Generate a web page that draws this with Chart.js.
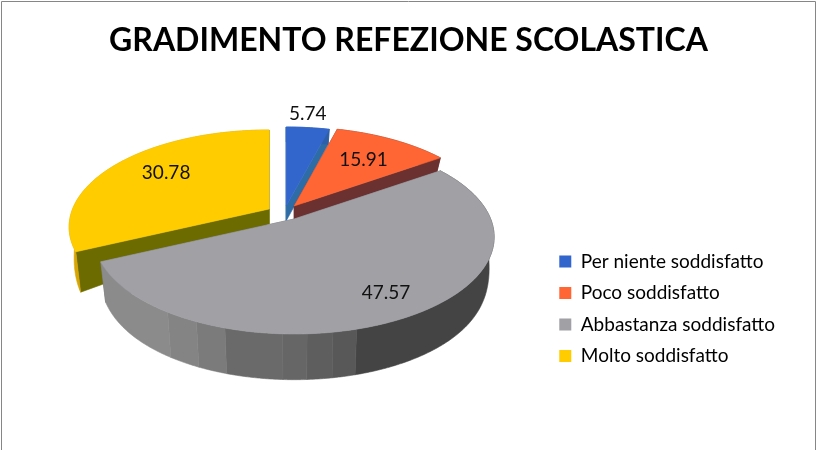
<!DOCTYPE html>
<html>
<head>
<meta charset="utf-8">
<title>Gradimento refezione scolastica</title>
<style>
  html, body { margin: 0; padding: 0; background: #fff; }
  canvas { display: block; }
</style>
<script src="https://cdn.jsdelivr.net/npm/chart.js@4/dist/chart.umd.min.js"></script>
</head>
<body>
<canvas id="chart" width="822" height="462"></canvas>
<script>
const categories = ["Per niente soddisfatto", "Poco soddisfatto", "Abbastanza soddisfatto", "Molto soddisfatto"];
const values = [5.74, 15.91, 47.57, 30.78];
const chartTitle = "GRADIMENTO REFEZIONE SCOLASTICA";

const faceColors = ["#3366cc", "#ff6633", "#a0a0a5", "#ffcc00"];
const edgeWallColors = ["#2d6ca5", "#6b3030", "#6b6b70", "#6b6b00"];
const rimWallColors = ["#2d5fa8", "#6b3030", "#444444", "#d9a500"];

// exploded slices: shift of each slice's tip from the pie centre
const sliceShiftX = [-3.25, 4.75, 4.75, -20.25];
const sliceShiftY = [-18.2, -18.2, -5.2, -15.2];
const drawOrder = [0, 1, 3, 2];

// where each value label sits between tip and rim
const labelReachX = [1.0, 0.7, 0.95, 0.65];
const labelReachY = [1.18, 0.69, 0.72, 0.88];

// the perspective squeezes the far right of the pie: true angle -> seen angle
const trueAngles = [0, 78, 249, 360];
const seenAngles = [0, 47, 255, 360];
const tilt = 0.485;
const tipAboveCentre = 18;

// shaded strips on the front of the grey slice, by horizontal position
const bandEdges = [-0.63, -0.485, -0.34, -0.055, 0.07, 0.2, 0.32];
const bandColors = ["#8b8b8b", "#848484", "#7b7b7b", "#6a6a6a", "#666666", "#5e5e5e", "#585858", "#444444"];

function seenAngle(deg) {
  for (let i = 1; i < trueAngles.length; i += 1) {
    if (deg <= trueAngles[i]) {
      const f = (deg - trueAngles[i - 1]) / (trueAngles[i] - trueAngles[i - 1]);
      return seenAngles[i - 1] + f * (seenAngles[i] - seenAngles[i - 1]);
    }
  }
  return deg;
}

function wallDepth(rel) {
  return rel <= 0 ? 15 : 46 - 31 * Math.exp(-rel / 25);
}

const pie3d = {
  id: "pie3d",
  beforeDraw(chart) {
    // frame of the original picture, open at the bottom
    const { ctx } = chart;
    ctx.save();
    ctx.strokeStyle = "#868686";
    ctx.lineWidth = 1;
    ctx.beginPath();
    ctx.moveTo(1.5, 450);
    ctx.lineTo(1.5, 1.5);
    ctx.lineTo(815.5, 1.5);
    ctx.lineTo(815.5, 450);
    ctx.stroke();
    ctx.restore();
  },
  beforeDatasetDraw(chart, args) {
    const { ctx } = chart;
    const arcs = args.meta.data;
    const fontSize = 19;

    function rimPoint(arc, i, t) {
      const r = arc.outerRadius;
      const rad = (t * Math.PI) / 180;
      const tipY = arc.y + sliceShiftY[i];
      return {
        x: arc.x + sliceShiftX[i] + r * Math.sin(rad),
        y: tipY + tipAboveCentre - r * tilt * Math.cos(rad),
      };
    }

    function lowered(arc, i, p) {
      const tipX = arc.x + sliceShiftX[i];
      const tipY = arc.y + sliceShiftY[i];
      return { x: tipX + (p.x - tipX) * 0.975, y: p.y + wallDepth(p.y - tipY) };
    }

    function fillPoly(points, color) {
      ctx.fillStyle = color;
      ctx.strokeStyle = color;
      ctx.lineWidth = 0.6;
      ctx.beginPath();
      points.forEach((p, k) => (k ? ctx.lineTo(p.x, p.y) : ctx.moveTo(p.x, p.y)));
      ctx.closePath();
      ctx.fill();
      ctx.stroke();
    }

    function rimColor(i, t) {
      if (i !== 2) return rimWallColors[i];
      const s = Math.sin((t * Math.PI) / 180);
      let band = 0;
      while (band < bandEdges.length && s > bandEdges[band]) band += 1;
      return bandColors[band];
    }

    ctx.save();
    drawOrder.forEach((i) => {
      const arc = arcs[i];
      const from = seenAngle(((arc.startAngle + Math.PI / 2) * 180) / Math.PI);
      const to = seenAngle(((arc.endAngle + Math.PI / 2) * 180) / Math.PI);
      const tip = { x: arc.x + sliceShiftX[i], y: arc.y + sliceShiftY[i] };
      const tipLow = { x: tip.x, y: tip.y + wallDepth(0) };

      // straight walls
      [from, to].forEach((t) => {
        const p = rimPoint(arc, i, t);
        fillPoly([tip, p, lowered(arc, i, p), tipLow], edgeWallColors[i]);
      });

      // curved wall, one polygon per colour band
      let top = [];
      let color = rimColor(i, from + 0.25);
      const steps = Math.ceil((to - from) * 2);
      for (let s = 0; s <= steps; s += 1) {
        const t = from + ((to - from) * s) / steps;
        const now = rimColor(i, t);
        const p = rimPoint(arc, i, t);
        top.push(p);
        if (now !== color || s === steps) {
          const bottom = top.map((q) => lowered(arc, i, q)).reverse();
          fillPoly(top.concat(bottom), color);
          top = [p];
          color = now;
        }
      }

      // top face
      const face = [tip];
      for (let t = from; t < to; t += 1) face.push(rimPoint(arc, i, t));
      face.push(rimPoint(arc, i, to));
      fillPoly(face, arc.options.backgroundColor);
    });

    // value labels
    ctx.fillStyle = "#111";
    ctx.font = fontSize + "px Lato";
    ctx.textAlign = "center";
    ctx.textBaseline = "middle";
    arcs.forEach((arc, i) => {
      const from = seenAngle(((arc.startAngle + Math.PI / 2) * 180) / Math.PI);
      const to = seenAngle(((arc.endAngle + Math.PI / 2) * 180) / Math.PI);
      const mid = rimPoint(arc, i, (from + to) / 2);
      const tipX = arc.x + sliceShiftX[i];
      const tipY = arc.y + sliceShiftY[i];
      ctx.fillText(
        values[i].toFixed(2),
        tipX + (mid.x - tipX) * labelReachX[i],
        tipY + (mid.y - tipY) * labelReachY[i]
      );
    });
    ctx.restore();
    return false;
  },
};

new Chart(document.getElementById("chart"), {
  type: "pie",
  data: {
    labels: categories,
    datasets: [{ data: values, backgroundColor: faceColors, borderWidth: 0 }],
  },
  plugins: [pie3d],
  options: {
    responsive: false,
    animation: false,
    radius: 200,
    layout: { padding: { left: 32, right: 37, bottom: 84, top: 0 } },
    plugins: {
      tooltip: { enabled: false },
      title: {
        display: true,
        text: chartTitle,
        color: "#000",
        font: { family: "Lato", size: 32, weight: "bold" },
        padding: { top: 21, bottom: 11 },
      },
      legend: {
        position: "right",
        align: "end",
        labels: {
          color: "#000",
          font: { family: "Lato", size: 19 },
          boxWidth: 12,
          boxHeight: 12,
          padding: 12.5,
        },
      },
    },
  },
});
</script>
</body>
</html>
